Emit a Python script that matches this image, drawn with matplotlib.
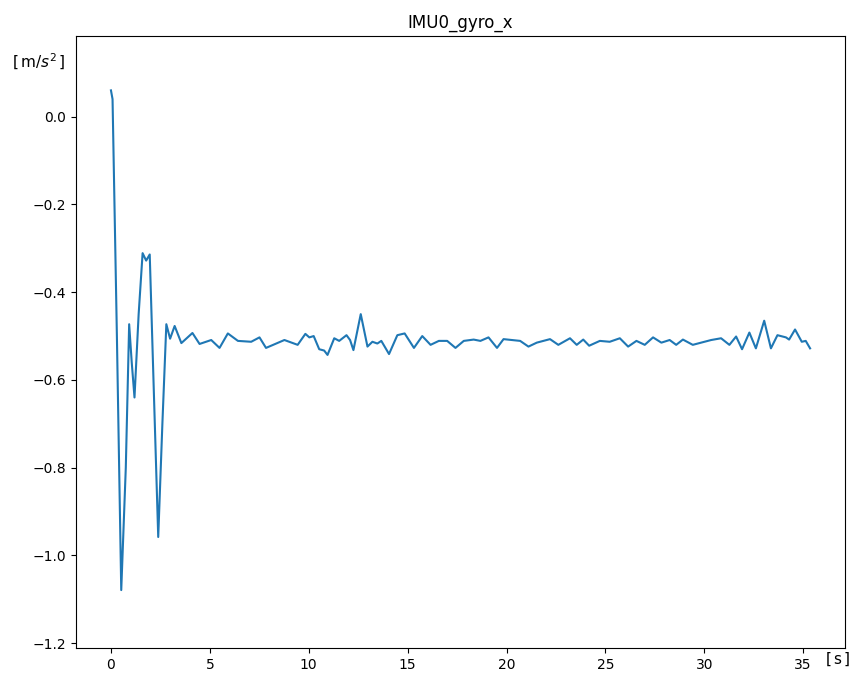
import matplotlib
matplotlib.use("Agg")
import matplotlib.pyplot as plt

# values
t = [0.0, 0.08, 0.3, 0.52, 0.75, 0.92, 1.05, 1.19, 1.4, 1.6, 1.78, 1.96, 2.15, 2.39,
     2.6, 2.8, 2.99, 3.22, 3.56, 4.12, 4.48, 5.07, 5.49, 5.91, 6.42, 7.09, 7.51, 7.84,
     8.77, 9.44, 9.83, 10.03, 10.25, 10.53, 10.78, 10.95, 11.29, 11.54, 11.91, 12.09,
     12.26, 12.63, 12.97, 13.22, 13.47, 13.67, 14.06, 14.48, 14.85, 15.32, 15.74, 16.16,
     16.58, 17.0, 17.42, 17.84, 18.34, 18.68, 19.09, 19.52, 19.85, 20.27, 20.69, 21.11,
     21.53, 22.2, 22.62, 23.21, 23.55, 23.88, 24.18, 24.72, 25.22, 25.73, 26.15, 26.57,
     26.99, 27.41, 27.83, 28.25, 28.58, 28.92, 29.42, 29.84, 30.35, 30.85, 31.27, 31.61,
     31.91, 32.28, 32.61, 33.03, 33.37, 33.70, 34.13, 34.29, 34.59, 34.93, 35.13, 35.35]
gyro_x = [0.06, 0.04, -0.5, -1.079, -0.8, -0.473, -0.56, -0.64, -0.45, -0.311, -0.328,
          -0.314, -0.6, -0.958, -0.7, -0.473, -0.506, -0.477, -0.516, -0.493, -0.518,
          -0.509, -0.527, -0.494, -0.511, -0.513, -0.503, -0.527, -0.509, -0.520, -0.495,
          -0.503, -0.500, -0.530, -0.533, -0.543, -0.505, -0.511, -0.498, -0.509, -0.532,
          -0.450, -0.524, -0.513, -0.517, -0.511, -0.541, -0.498, -0.494, -0.527, -0.500,
          -0.520, -0.511, -0.511, -0.527, -0.511, -0.508, -0.511, -0.503, -0.527, -0.507,
          -0.509, -0.511, -0.524, -0.515, -0.507, -0.520, -0.505, -0.520, -0.508, -0.522,
          -0.511, -0.513, -0.505, -0.524, -0.511, -0.520, -0.503, -0.515, -0.509, -0.520,
          -0.508, -0.520, -0.515, -0.509, -0.505, -0.520, -0.501, -0.530, -0.492, -0.528,
          -0.465, -0.528, -0.498, -0.503, -0.508, -0.485, -0.513, -0.511, -0.528]

fig = plt.figure(figsize=(8.54, 6.75), dpi=100)
ax = fig.add_axes([0.089, 0.04, 0.9005, 0.9067])
ax.plot(t, gyro_x)
ax.set_ylim(-1.211, 0.184)
ax.set_title("IMU0_gyro_x")

ax.set_ylabel(r"$[\,\mathrm{m}/s^2\,]$", rotation=0, fontsize=11, va="center")
ax.yaxis.set_label_coords(-0.049, 0.958)
ax.set_xlabel(r"$[\,\mathrm{s}\,]$", fontsize=11)
ax.xaxis.set_label_coords(0.99, -0.005)

fig.savefig("out.png", dpi=100)
